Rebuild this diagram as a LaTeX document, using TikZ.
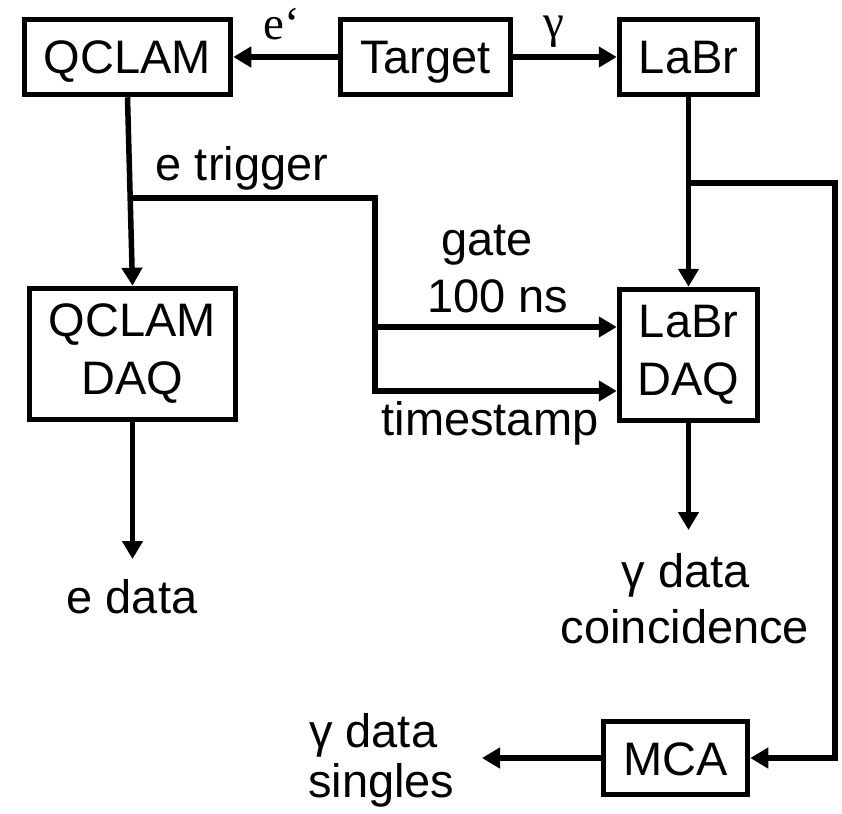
\documentclass[tikz,border=0pt]{standalone}
\usepackage{fontspec}
\setmainfont{Liberation Sans}
\newfontfamily\seriffont{Liberation Serif}
\usetikzlibrary{arrows.meta,calc}
\begin{document}
\begin{tikzpicture}[x=1pt,y=-1pt,
  box/.style={draw,line width=5.5pt,rectangle,inner sep=0pt,font=\fontsize{47}{58}\selectfont,align=center},
  onebox/.style={box,text height=34pt,text depth=0pt},
  conn/.style={line width=5.5pt},
  arr/.style={line width=5.5pt,-{Triangle[length=18pt,width=20pt]}},
  lbl/.style={font=\fontsize{47}{58}\selectfont,inner sep=0pt,anchor=base},
  slbl/.style={font=\seriffont\fontsize{47}{58}\selectfont,inner sep=0pt,anchor=base,text height=32pt,text depth=10pt}]
\useasboundingbox (0,0) rectangle (842,813);
% boxes
\node[onebox,minimum width=206pt,minimum height=75pt] (qclam) at (127.5,57) {QCLAM};
\node[onebox,minimum width=170pt,minimum height=75pt] (target) at (425.5,57) {Target};
\node[onebox,minimum width=138pt,minimum height=75pt] (labr) at (688.5,57) {LaBr};
\node[box,minimum width=206pt,minimum height=131pt] (qclamdaq) at (132.5,354) {QCLAM\\DAQ};
\node[box,minimum width=138pt,minimum height=131pt] (labrdaq) at (688.5,355) {LaBr\\DAQ};
\node[onebox,minimum width=144pt,minimum height=73pt] (mca) at (675.5,758) {MCA};
% helper coordinates
\coordinate (trigx) at (375,0);
\coordinate (gatey) at (0,327);
\coordinate (tsy) at (0,391);
\coordinate (ljy) at (0,183);
\coordinate (rx) at (835,0);
\coordinate (ej) at ($(qclam.south)!0.534!(qclamdaq.north)$);
\coordinate (edataend) at (132.5,559);
\coordinate (gdataend) at (688.5,530);
\coordinate (singlesend) at (482,758);
% connectors
\draw[arr] (target.west) -- (qclam.east);
\draw[arr] (target.east) -- (labr.west);
\draw[arr] (qclam.south) -- (qclamdaq.north);
\draw[arr] (ej) -- (ej -| trigx) |- (labrdaq.west |- tsy);
\draw[arr] (trigx |- gatey) -- (labrdaq.west |- gatey);
\draw[arr] (labr.south) -- (labrdaq.north);
\draw[arr] (labr.south |- ljy) -- (rx |- ljy) |- (mca.east);
\draw[arr] (qclamdaq.south) -- (edataend);
\draw[arr] (labrdaq.south) -- (gdataend);
\draw[arr] (mca.west) -- (singlesend);
% labels
\node[slbl] (eprime) at (282,40) {e‘};
\node[slbl] (gam) at (554,38) {γ};
\node[lbl] (etrig) at (242,180) {e trigger};
\node[lbl] (gate) at (487,255) {gate};
\node[lbl] (ns) at (498,312) {100 ns};
\node[lbl] (ts) at (490,435) {timestamp};
\node[lbl] (edata) at (132,613) {e data};
\node[lbl] (gdata) at (686,587) {γ data};
\node[lbl] (coinc) at (685,643) {coincidence};
\node[lbl,anchor=base west] (gsing) at (309,747) {γ data};
\node[lbl,anchor=base west] (sing) at (308,797) {singles};
\end{tikzpicture}
\end{document}
